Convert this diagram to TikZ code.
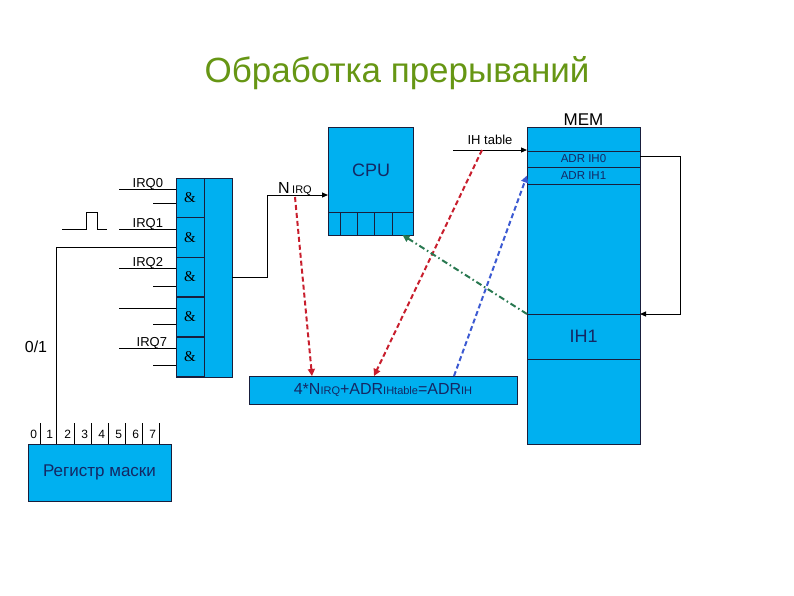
\documentclass[tikz,border=0pt]{standalone}
\usepackage{fontspec}
\setmainfont{Liberation Sans}
\newfontfamily\ampfont{Liberation Serif}
\usetikzlibrary{arrows.meta,positioning}
\definecolor{cellfill}{RGB}{0,176,240}
\definecolor{edge}{RGB}{25,30,60}
\definecolor{titlegreen}{RGB}{102,150,20}
\definecolor{inktext}{RGB}{20,40,100}
\definecolor{redline}{RGB}{200,30,45}
\definecolor{blueline}{RGB}{60,90,210}
\definecolor{greenline}{RGB}{40,120,80}
\newcommand{\fs}[1]{\fontsize{#1}{#1}\selectfont}
\begin{document}
\begin{tikzpicture}[x=1pt,y=-1pt,
  every node/.style = {inner sep=0pt, outer sep=0pt},
  box/.style = {shape=rectangle, draw=edge, fill=cellfill, line width=1pt},
  wire/.style = {line width=1pt},
  arr/.style = {line width=1pt, -{Triangle[length=6pt,width=5pt]}},
  dsh/.style = {line width=2pt, dash pattern=on 5pt off 3pt,
    -{Triangle[length=7pt,width=7pt]}},
  dshdot/.style = {line width=2pt, dash pattern=on 6pt off 3pt on 1.5pt off 3pt,
    -{Triangle[length=7pt,width=7pt]}},
  irq/.style = {font=\fs{13}, anchor=base east}]
  \useasboundingbox (0,0) rectangle (794,595);
  \node[font=\fs{35}, text=titlegreen, anchor=base] (title) at (397,82) {Обработка прерываний};

  \node[box, minimum width=56, minimum height=199] (andblk) at (204,277.5) {};
  \foreach \i/\y in {1/198,2/237.5,3/277,4/317,5/357}
    \node[box, minimum width=28, minimum height=39.8, font=\ampfont\fs{15}] (and\i) at (190,\y) {\&};

  \foreach \i/\ya in {1/189,2/229,3/268,4/308,5/348} {
    \coordinate (irq\i) at (119,\ya);
    \draw[wire] (irq\i) -- (irq\i -| andblk.west);
  }
  \foreach \i/\yb in {1/203,3/286,4/324,5/365} {
    \coordinate (en\i) at (153,\yb);
    \draw[wire] (en\i) -- (en\i -| andblk.west);
  }
  \node[irq] (lirq0) at (163,187.5) {IRQ0};
  \node[irq] (lirq1) at (163,227.5) {IRQ1};
  \node[irq] (lirq2) at (163,266.5) {IRQ2};
  \node[irq] (lirq7) at (167,346.5) {IRQ7};
  \draw[wire] (62,229) -- (86,229) -- (86,212) -- (97,212) -- (97,229) -- (107,229);
  \node[font=\fs{16}] (bitval) at (36,347) {0/1};

  \node[box, minimum width=143, minimum height=57, font=\fs{17}, text=inktext] (mask) at (99.5,472.5) {Регистр маски};
  \foreach \d/\x in {0/40,1/56,2/74,3/91,4/108,5/125,6/142,7/159} {
    \coordinate (tick\d) at (\x,423);
    \draw[wire] (tick\d) -- (tick\d |- mask.north);
    \node[font=\fs{12}, anchor=base east] (bit\d) at (\x-3,438) {\d};
  }
  \coordinate (maskin) at (56,247);
  \draw[wire] (tick1) -- (maskin) -- (maskin -| andblk.west);

  \node[box, minimum width=85, minimum height=108] (cpu) at (370.5,181) {};
  \node[font=\fs{18}, text=inktext] (cpulbl) at (371,170) {CPU};
  \foreach \i/\x/\w in {1/334/12,2/348.5/17,3/365.5/17,4/383/18,5/402.5/21}
    \node[box, minimum width=\w, minimum height=23] (creg\i) at (\x,223.5) {};

  \coordinate (nirq) at (267,195);
  \draw[arr] (and3 -| andblk.east) -| (nirq) -- (nirq -| cpu.west);
  \node[anchor=base west] (nlbl) at (278,193) {\fs{16}N\,\fs{11}IRQ};

  \node[box, minimum width=113, minimum height=317] (mem) at (583.5,285.5) {};
  \node[font=\fs{17}, above=2pt of mem] (memlbl) {MEM};
  \node[box, minimum width=113, minimum height=16, font=\fs{11.5}, text=inktext] (adr0) at (583.5,159) {ADR IH0};
  \node[box, minimum width=113, minimum height=17, font=\fs{11.5}, text=inktext] (adr1) at (583.5,175.5) {ADR IH1};
  \node[box, minimum width=113, minimum height=45, font=\fs{18}, text=inktext] (ih1) at (583.5,336.5) {IH1};

  \coordinate (ihtab) at (453,150);
  \draw[arr] (ihtab) -- (ihtab -| mem.west);
  \node[font=\fs{13}, anchor=base] (ihlbl) at (490,144) {IH table};
  \draw[arr] ([yshift=3pt]adr0.east) -- ++(40,0) |- (ih1.north east);

  \node[box, minimum width=268, minimum height=28, text=inktext] (sum) at (383,390)
    {\fs{16}4*N\fs{11}IRQ\fs{16}+ADR\fs{11}IHtable\fs{16}=ADR\fs{11}IH};

  \coordinate (nq) at (295,197);
  \draw[dsh, redline] (nq) -- ([xshift=63pt]sum.north west);
  \draw[dsh, redline] ([xshift=29pt]ihtab) -- ([xshift=125pt]sum.north west);
  \draw[dsh, blueline] ([xshift=205pt]sum.north west) -- (adr1.west);
  \draw[dshdot, greenline] (ih1.north west) -- (creg5.south);
\end{tikzpicture}
\end{document}
